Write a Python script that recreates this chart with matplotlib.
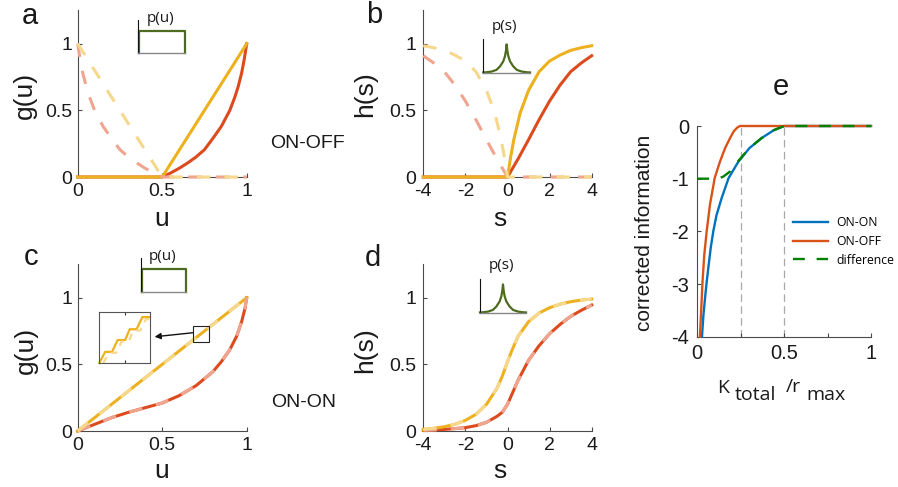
import numpy as np
import matplotlib.pyplot as plt

plt.rcParams['font.family'] = ['Liberation Sans', 'DejaVu Sans']
plt.rcParams['axes.unicode_minus'] = False

# ---------------- data ----------------
# panel a: ON-OFF pair, uniform input u
a_u_lin_on = [0, 0.5, 1.0]
a_g_lin_on = [0, 0, 1.0]
a_u_lin_off = [0, 0.5, 1.0]
a_g_lin_off = [1.0, 0, 0]
a_u_red_on = [0, 0.5, 0.55, 0.6, 0.65, 0.7, 0.75, 0.8, 0.85, 0.9, 0.93, 0.95, 0.97, 0.985, 1.0]
a_g_red_on = [0, 0, 0.03, 0.065, 0.105, 0.15, 0.205, 0.29, 0.38, 0.5, 0.6, 0.68, 0.78, 0.88, 1.0]
a_u_red_off = [0, 0.015, 0.03, 0.05, 0.07, 0.1, 0.15, 0.2, 0.25, 0.3, 0.35, 0.4, 0.45, 0.5, 1.0]
a_g_red_off = [1.0, 0.88, 0.78, 0.68, 0.6, 0.5, 0.38, 0.29, 0.205, 0.15, 0.105, 0.065, 0.03, 0, 0]

# panel b: ON-OFF pair, Laplacian input s
b_s_yel_on = [-4, 0, 0.15, 0.3, 0.6, 1.0, 1.5, 2.0, 2.5, 3.0, 3.5, 4.0]
b_h_yel_on = [0, 0, 0.15, 0.28, 0.48, 0.65, 0.79, 0.87, 0.915, 0.95, 0.97, 0.985]
b_s_yel_off = [-4.0, -3.5, -3.0, -2.5, -2.0, -1.5, -1.0, -0.6, -0.3, -0.15, 0, 4]
b_h_yel_off = [0.985, 0.97, 0.95, 0.915, 0.87, 0.79, 0.65, 0.48, 0.28, 0.15, 0, 0]
b_s_red_on = [-4, 0, 0.5, 1.0, 1.5, 2.0, 2.5, 3.0, 3.5, 4.0]
b_h_red_on = [0, 0, 0.135, 0.28, 0.43, 0.57, 0.69, 0.79, 0.855, 0.91]
b_s_red_off = [-4.0, -3.5, -3.0, -2.5, -2.0, -1.5, -1.0, -0.5, 0, 4]
b_h_red_off = [0.91, 0.855, 0.79, 0.69, 0.57, 0.43, 0.28, 0.135, 0, 0]

# panel c: ON-ON pair, uniform input
c_u_lin = [0, 1.0]
c_g_lin = [0, 1.0]
c_u_red = [0, 0.1, 0.2, 0.3, 0.4, 0.5, 0.6, 0.7, 0.8, 0.85, 0.9, 0.94, 0.97, 0.99, 1.0]
c_g_red = [0, 0.05, 0.1, 0.14, 0.175, 0.21, 0.265, 0.34, 0.445, 0.52, 0.61, 0.71, 0.82, 0.92, 1.0]

# zoomed staircase (inset of c)
stair_x_on = [0, 0.116, 0.252, 0.361, 0.51, 0.599, 0.735, 0.85, 1.0]
stair_y_on = [0, 0.219, 0.219, 0.45, 0.45, 0.662, 0.662, 0.90, 0.90]
stair_x_off = [0.08, 0.19, 0.33, 0.44, 0.58, 0.67, 0.81, 0.92, 1.0]
stair_y_off = [0, 0.2, 0.2, 0.42, 0.42, 0.64, 0.64, 0.86, 0.86]

# panel d: ON-ON pair, Laplacian input
d_s = [-4, -3.5, -3, -2.5, -2, -1.5, -1, -0.5, -0.25, 0, 0.25, 0.5, 1, 1.5, 2, 2.5, 3, 3.5, 4]
d_h_yel = [0.012, 0.02, 0.032, 0.05, 0.08, 0.125, 0.2, 0.32, 0.41, 0.52, 0.62, 0.71, 0.82,
           0.885, 0.925, 0.952, 0.97, 0.982, 0.99]
d_h_red = [0.005, 0.008, 0.012, 0.018, 0.025, 0.04, 0.065, 0.11, 0.14, 0.2, 0.29, 0.38, 0.53,
           0.64, 0.73, 0.8, 0.86, 0.905, 0.945]

# input distributions (insets)
p_u_x = [0, 0, 1, 1]
p_u_y = [0, 1, 1, 0]
p_s_x = [-4, -3.5, -2.6, -1.75, -1.15, -0.58, -0.29, -0.12, 0, 0.12, 0.29, 0.58, 1.15, 1.75, 2.6, 3.5, 4]
p_s_y = [0.025, 0.03, 0.05, 0.1, 0.2, 0.35, 0.5, 0.66, 0.85, 0.66, 0.5, 0.35, 0.2, 0.1, 0.05, 0.03, 0.025]

# panel e: corrected information vs K_total / r_max
e_x_onon = [0.027, 0.035, 0.045, 0.054, 0.065, 0.077, 0.092, 0.11, 0.14, 0.18, 0.236, 0.30, 0.37, 0.44, 0.5, 1.0]
e_y_onon = [-4, -3.6, -3.25, -2.96, -2.65, -2.32, -2.0, -1.7, -1.37, -0.99, -0.68, -0.42, -0.23, -0.08, 0, 0]
e_x_onoff = [0.015, 0.018, 0.021, 0.03, 0.04, 0.054, 0.073, 0.10, 0.13, 0.16, 0.19, 0.21, 0.23, 0.245, 1.0]
e_y_onoff = [-4, -3.8, -3.59, -2.96, -2.45, -2.0, -1.49, -0.99, -0.68, -0.42, -0.22, -0.1, -0.03, 0, 0]
e_x_diff = [0, 0.12, 0.15, 0.19, 0.22, 0.25, 0.30, 0.37, 0.44, 0.5, 1.0]
e_y_diff = [-1, -1, -0.96, -0.86, -0.73, -0.61, -0.42, -0.23, -0.08, 0, 0]
e_marks = [0.25, 0.5]

# ---------------- style ----------------
YEL = '#EDB120'
RED = '#DC4B1E'
YEL_L = '#F6D88C'
RED_L = '#EFA58F'
GRN = '#4D6B1E'
AXC = '#4a4a4a'
TXT = '#1a1a1a'
LW = 2.2
DASH = (4.4, 4.6)

W, H = 898, 487
fig = plt.figure(figsize=(W / 100, H / 100), dpi=100)


def px_axes(x0, y0, x1, y1):
    return fig.add_axes([x0 / W, 1 - y1 / H, (x1 - x0) / W, (y1 - y0) / H])


def px_text(x, y, s, **kw):
    kw.setdefault('color', TXT)
    return fig.text(x / W, 1 - y / H, s, **kw)


def style(ax, xlim, ylim, xticks, xlabels, yticks, ylabels, size=14, xpad=4.2, ypad=4.0):
    ax.set_xlim(*xlim)
    ax.set_ylim(*ylim)
    ax.set_xticks(xticks, xlabels)
    ax.set_yticks(yticks, ylabels)
    for side in ('top', 'right'):
        ax.spines[side].set_visible(False)
    for side in ('left', 'bottom'):
        ax.spines[side].set_color(AXC)
        ax.spines[side].set_linewidth(0.8)
    ax.tick_params(direction='in', length=3, width=0.8, color=AXC,
                   labelsize=size, labelcolor=TXT)
    ax.tick_params(axis='x', pad=xpad)
    ax.tick_params(axis='y', pad=ypad)
    ax.patch.set_alpha(0)


def onoff(ax, x_on, y_on, x_off, y_off, c_on, c_off):
    ax.plot(x_on, y_on, color=c_on, lw=LW, clip_on=False, zorder=3)
    ax.plot(x_off, y_off, color=c_off, lw=LW, dashes=DASH, clip_on=False, zorder=4)


def p_inset(box, x, y, xlim, ylim, label, label_xy):
    ax = px_axes(*box)
    ax.plot(x, y, color=GRN, lw=1.6, clip_on=False)
    ax.set_xlim(*xlim)
    ax.set_ylim(*ylim)
    ax.set_xticks([])
    ax.set_yticks([])
    for side in ('top', 'right'):
        ax.spines[side].set_visible(False)
    ax.spines['left'].set_color('#111111')
    ax.spines['left'].set_linewidth(0.8)
    ax.spines['bottom'].set_color('#888888')
    ax.spines['bottom'].set_linewidth(1.0)
    ax.patch.set_alpha(0)
    px_text(*label_xy, label, ha='center', va='center', fontsize=11,
            family=['Open Sans', 'DejaVu Sans'])
    return ax


# ---------------- panel a ----------------
ax_a = px_axes(77.7, 10.4, 246.7, 177)
style(ax_a, (0, 1), (0, 1.25), [0, 0.5, 1], ['0', '0.5', '1'], [0, 0.5, 1], ['0', '0.5', '1'])
onoff(ax_a, a_u_red_on, a_g_red_on, a_u_red_off, a_g_red_off, RED, RED_L)
onoff(ax_a, a_u_lin_on, a_g_lin_on, a_u_lin_off, a_g_lin_off, YEL, YEL_L)
p_inset((138, 20, 184.5, 53.3), p_u_x, p_u_y, (-0.02, 1), (0, 1.5), 'p(u)', (160.5, 18))

# ---------------- panel b ----------------
ax_b = px_axes(423.3, 10.4, 591.7, 177)
style(ax_b, (-4, 4), (0, 1.25), [-4, -2, 0, 2, 4], ['-4', '-2', '0', '2', '4'],
      [0, 0.5, 1], ['0', '0.5', '1'], ypad=5.0)
onoff(ax_b, b_s_red_on, b_h_red_on, b_s_red_off, b_h_red_off, RED, RED_L)
onoff(ax_b, b_s_yel_on, b_h_yel_on, b_s_yel_off, b_h_yel_off, YEL, YEL_L)
p_inset((483.3, 39.3, 530, 73.3), p_s_x, p_s_y, (-4, 4), (0, 1), 'p(s)', (504.8, 26.5))

# ---------------- panel c ----------------
ax_c = px_axes(77.7, 264.4, 246.7, 431)
style(ax_c, (0, 1), (0, 1.25), [0, 0.5, 1], ['0', '0.5', '1'], [0, 0.5, 1], ['0', '0.5', '1'])
onoff(ax_c, c_u_red, c_g_red, c_u_red, c_g_red, RED, RED_L)
onoff(ax_c, c_u_lin, c_g_lin, c_u_lin, c_g_lin, YEL, YEL_L)
ax_c.add_patch(plt.Rectangle((0.68, 0.67), 0.095, 0.12, fill=False, ec='#222222', lw=0.8, zorder=6))
ax_c.annotate('', xy=(0.455, 0.707), xytext=(0.68, 0.737),
              arrowprops=dict(arrowstyle='-|>', color='#111111', lw=1.0, mutation_scale=9,
                              shrinkA=0, shrinkB=0), zorder=6)
p_inset((140.7, 258, 186, 292.3), p_u_x, p_u_y, (-0.02, 1), (0, 1.5), 'p(u)', (162.2, 257))

ax_z = px_axes(99.3, 312, 150, 363)
ax_z.plot(stair_x_on, stair_y_on, color=YEL, lw=1.6, clip_on=False)
ax_z.plot(stair_x_off, stair_y_off, color=YEL_L, lw=1.6, dashes=(3, 3), clip_on=False)
ax_z.set_xlim(0, 1)
ax_z.set_ylim(0, 1)
ax_z.set_xticks([0.5])
ax_z.set_yticks([])
ax_z.tick_params(direction='in', length=2.5, width=0.8, color='#333333',
                 labelbottom=False, top=True)
for sp in ax_z.spines.values():
    sp.set_color('#555555')
    sp.set_linewidth(0.8)

# ---------------- panel d ----------------
ax_d = px_axes(423.3, 264.4, 591.7, 431)
style(ax_d, (-4, 4), (0, 1.25), [-4, -2, 0, 2, 4], ['-4', '-2', '0', '2', '4'],
      [0, 0.5, 1], ['0', '0.5', '1'], ypad=5.0)
onoff(ax_d, d_s, d_h_red, d_s, d_h_red, RED, RED_L)
onoff(ax_d, d_s, d_h_yel, d_s, d_h_yel, YEL, YEL_L)
p_inset((480, 279.3, 526, 313.3), p_s_x, p_s_y, (-4, 4), (0, 1), 'p(s)', (501.8, 265.5))

# ---------------- panel e ----------------
ax_e = px_axes(697.3, 126, 871, 336.7)
style(ax_e, (0, 1), (-4, 0), [0, 0.25, 0.5, 0.75, 1], ['0', '', '0.5', '', '1'],
      [-4, -3, -2, -1, 0], ['-4', '-3', '-2', '-1', '0'], size=14.5, xpad=5.5, ypad=6.0)
for xm in e_marks:
    ax_e.plot([xm, xm], [-4, 0], color='#a8a8a8', lw=0.9, dashes=(6, 3.5), zorder=1)
ax_e.plot(e_x_onon, e_y_onon, color='#0072BD', lw=1.7, clip_on=False, zorder=3, label='ON-ON')
ax_e.plot(e_x_onoff, e_y_onoff, color='#D95319', lw=1.7, clip_on=False, zorder=4, label='ON-OFF')
ax_e.plot(e_x_diff, e_y_diff, color='#008000', lw=1.7, dashes=(5, 5), clip_on=False, zorder=5,
          label='difference')
ax_e.legend(loc='upper left', bbox_to_anchor=(793.3 / W, 1 - 216.5 / H),
            bbox_transform=fig.transFigure, frameon=False, borderpad=0, borderaxespad=0,
            handlelength=2.8, handletextpad=0.75, labelspacing=0.45,
            prop={'family': ['Open Sans', 'DejaVu Sans'], 'size': 8.8})

# ---------------- labels ----------------
lab = dict(ha='center', va='center', fontsize=19)
px_text(25, 95, 'g(u)', rotation=90, **lab)
px_text(162, 219, 'u', **lab)
px_text(365, 94, 'h(s)', rotation=90, **lab)
px_text(500, 219, 's', **lab)
px_text(26, 350, 'g(u)', rotation=90, **lab)
px_text(162, 471, 'u', **lab)
px_text(365, 350, 'h(s)', rotation=90, **lab)
px_text(500, 471, 's', **lab)

px_text(644, 233, 'corrected information', rotation=90, ha='center', va='center', fontsize=15)
xl = dict(ha='left', va='baseline', fontsize=14, family=['Open Sans', 'DejaVu Sans'])
px_text(716.7, 393, 'K', **xl)
px_text(735, 400, 'total', **xl)
px_text(785.7, 392, '/r', **xl)
px_text(806.7, 400.5, 'max', **xl)

px_text(270, 144, 'ON-OFF', ha='left', va='center', fontsize=14)
px_text(270.7, 402.5, 'ON-ON', ha='left', va='center', fontsize=14)

let = dict(ha='center', va='center', fontsize=21)
px_text(30, 16, 'a', **let)
px_text(374, 15, 'b', **let)
px_text(31.5, 257, 'c', **let)
px_text(373, 258, 'd', **let)
px_text(781, 87, 'e', **let)

fig.savefig('out.png', dpi=100)
